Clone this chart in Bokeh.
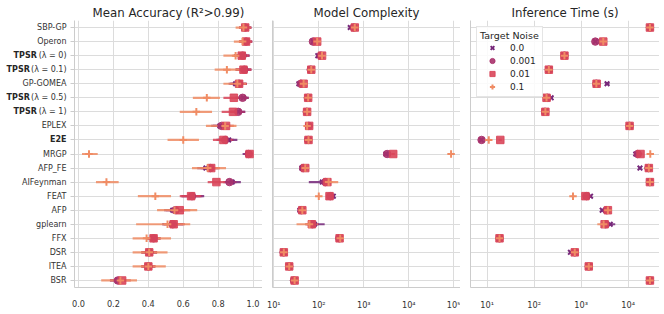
from bokeh.plotting import figure
from bokeh.models import Range1d, FactorRange, FixedTicker, Legend, LegendItem, ColumnDataSource, PrintfTickFormatter
from bokeh.layouts import row
from bokeh.embed import file_html
from bokeh.resources import INLINE
from bokeh.core.properties import value

methods = ["SBP-GP", "Operon", "TPSR (λ = 0)", "TPSR (λ = 0.1)", "GP-GOMEA", "TPSR (λ = 0.5)",
           "TPSR (λ = 1)", "EPLEX", "E2E", "MRGP", "AFP_FE", "AIFeynman", "FEAT", "AFP",
           "gplearn", "FFX", "DSR", "ITEA", "BSR"]
bold_methods = ["E2E"]
noise_levels = ["0.0", "0.001", "0.01", "0.1"]

# ---- Mean accuracy (R2 > 0.99) ----
acc_n0 = [0.955, 0.96, 0.94, 0.95, 0.90, 0.945, 0.915, 0.81, 0.86, 0.97, 0.73, 0.88, 0.65, 0.54, 0.54, 0.43, 0.405, 0.40, 0.225]
acc_n1 = [0.955, 0.96, 0.94, 0.95, 0.92, 0.94, 0.915, 0.82, 0.84, 0.975, 0.755, 0.865, 0.65, 0.555, 0.54, 0.43, 0.405, 0.40, 0.225]
acc_n2 = [0.955, 0.96, 0.935, 0.945, 0.92, 0.89, 0.885, 0.845, 0.83, 0.98, 0.76, 0.79, 0.645, 0.58, 0.545, 0.43, 0.405, 0.40, 0.25]
acc_n3 = [0.945, 0.94, 0.90, 0.85, 0.91, 0.735, 0.675, 0.84, 0.60, 0.06, 0.74, 0.16, 0.44, 0.55, 0.51, 0.39, 0.405, 0.40, 0.24]
acc_lo_n0 = [0.92, 0.92, 0.89, 0.90, 0.86, 0.90, 0.87, 0.76, 0.80, 0.94, 0.68, 0.84, 0.59, 0.49, 0.48, 0.39, 0.36, 0.36, 0.18]
acc_hi_n0 = [0.99, 0.995, 0.98, 0.99, 0.96, 0.975, 0.955, 0.86, 0.91, 0.99, 0.78, 0.93, 0.72, 0.60, 0.60, 0.47, 0.45, 0.44, 0.27]
acc_lo_n1 = [0.92, 0.92, 0.89, 0.90, 0.87, 0.90, 0.87, 0.77, 0.79, 0.95, 0.70, 0.83, 0.59, 0.50, 0.48, 0.39, 0.36, 0.36, 0.18]
acc_hi_n1 = [0.99, 0.995, 0.98, 0.99, 0.965, 0.975, 0.955, 0.87, 0.89, 0.99, 0.80, 0.905, 0.71, 0.61, 0.60, 0.47, 0.45, 0.44, 0.27]
acc_lo_n2 = [0.92, 0.92, 0.89, 0.90, 0.87, 0.83, 0.82, 0.80, 0.77, 0.96, 0.71, 0.74, 0.58, 0.52, 0.49, 0.39, 0.36, 0.36, 0.20]
acc_hi_n2 = [0.99, 0.995, 0.975, 0.99, 0.965, 0.94, 0.93, 0.89, 0.88, 0.995, 0.81, 0.84, 0.70, 0.64, 0.61, 0.47, 0.45, 0.44, 0.30]
acc_lo_n3 = [0.90, 0.89, 0.83, 0.78, 0.83, 0.655, 0.58, 0.73, 0.51, 0.02, 0.65, 0.10, 0.34, 0.45, 0.33, 0.31, 0.31, 0.31, 0.13]
acc_hi_n3 = [0.985, 0.985, 0.96, 0.93, 0.96, 0.81, 0.765, 0.905, 0.69, 0.11, 0.845, 0.23, 0.53, 0.68, 0.64, 0.53, 0.51, 0.50, 0.335]

# ---- Model complexity ----
cx_n0 = [500, 75, 95, 64, 36, 55, 53, 58, 56, 3100, 42, 120, 210, 38, 80, 280, 16.5, 22, 28]
cx_n1 = [600, 74, 110, 66, 40, 57, 54, 60, 58, 3300, 45, 140, 180, 41, 72, 285, 16.5, 22, 28]
cx_n2 = [630, 92, 118, 68, 46, 58, 55, 61, 59, 4500, 50, 155, 173, 43, 70, 290, 16.7, 22, 29]
cx_n3 = [630, 92, 118, 68, 46, 58, 55, 55, 59, 87000, 50, 165, 100, 43, 62, 300, 16.7, 22, 29]
cx_lo_n0 = [470, 70, 90, 60, 33, 52, 50, 54, 52, 2900, 39, 60, 190, 35, 50, 260, 15.5, 21, 26]
cx_hi_n0 = [540, 80, 100, 68, 39, 59, 57, 62, 60, 3400, 46, 160, 230, 41, 135, 300, 17.5, 23, 30]
cx_lo_n1 = [570, 70, 104, 62, 37, 54, 51, 57, 55, 3100, 42, 110, 165, 38, 58, 270, 15.5, 21, 26.5]
cx_hi_n1 = [640, 79, 117, 70, 43, 60, 57, 63, 61, 3600, 48, 175, 195, 44, 100, 300, 17.5, 23, 30]
cx_lo_n2 = [590, 86, 110, 64, 43, 55, 52, 58, 56, 4100, 47, 125, 160, 40, 55, 270, 15.8, 21, 27]
cx_hi_n2 = [670, 98, 126, 72, 49, 61, 58, 64, 62, 4900, 53, 190, 190, 46, 90, 310, 17.6, 23, 31]
cx_lo_n3 = [600, 88, 112, 65, 44, 56, 53, 52, 57, 84000, 48, 120, 96, 41, 32, 280, 16, 21, 27.5]
cx_hi_n3 = [660, 96, 124, 71, 48, 60, 57, 58, 61, 90000, 52, 270, 104, 45, 95, 340, 17.4, 23, 30.5]

# ---- Inference time (s) ----
tm_n0 = [29000, 2000, 440, 215, 3550, 230, 175, 10700, 7.5, 14500, 17800, 29000, 1580, 2800, 4150, 18.3, 590, 1450, 29000]
tm_n1 = [29000, 2000, 440, 205, 2100, 190, 170, 10700, 7.6, 16000, 27000, 29000, 1300, 3500, 3300, 18.3, 730, 1450, 29000]
tm_n2 = [29000, 2950, 440, 205, 2130, 183, 173, 10700, 19, 18300, 27500, 29000, 1230, 3700, 3150, 18.3, 730, 1450, 29000]
tm_n3 = [29000, 2950, 440, 205, 2100, 183, 173, 10700, 10.8, 29500, 27500, 29000, 670, 3700, 3000, 18.3, 730, 1450, 29000]
tm_lo_n0 = [27500, 1850, 410, 195, 3250, 210, 160, 10000, 7, 13500, 16500, 27500, 1480, 2600, 3300, 17, 550, 1380, 27500]
tm_hi_n0 = [30500, 2150, 470, 235, 4000, 250, 190, 11500, 8, 15500, 19000, 30500, 1700, 3000, 5300, 19.5, 640, 1520, 30500]
tm_lo_n1 = [27500, 1850, 410, 190, 1950, 175, 158, 10000, 7, 15000, 25500, 27500, 1200, 3250, 3000, 17, 680, 1380, 27500]
tm_hi_n1 = [30500, 2150, 470, 220, 2300, 205, 182, 11500, 8.2, 17000, 28500, 30500, 1400, 3750, 3600, 19.5, 790, 1520, 30500]
tm_lo_n2 = [27500, 2750, 410, 190, 1950, 170, 160, 10000, 17.5, 16500, 26000, 27500, 1120, 3450, 2900, 17, 680, 1380, 27500]
tm_hi_n2 = [30500, 3150, 470, 225, 2300, 200, 185, 11500, 20.5, 20000, 29000, 30500, 1350, 3950, 3450, 19.5, 790, 1520, 30500]
tm_lo_n3 = [27500, 2750, 410, 190, 1950, 170, 160, 10000, 10, 28000, 26000, 27500, 630, 3450, 2200, 17, 680, 1380, 27500]
tm_hi_n3 = [30500, 3150, 470, 225, 2300, 200, 185, 11500, 11.6, 31000, 29000, 30500, 710, 3950, 3800, 19.5, 790, 1520, 30500]

acc_ticks = [0.0, 0.2, 0.4, 0.6, 0.8, 1.0]
cx_ticks = [10, 100, 1000, 10000, 100000]
cx_tick_labels = ["10¹", "10²", "10³", "10⁴", "10⁵"]
tm_ticks = [10, 100, 1000, 10000]
tm_tick_labels = ["10¹", "10²", "10³", "10⁴"]

colors = ["#76287a", "#a8326c", "#d9465a", "#f08c64"]
markers = ["x", "circle", "square", "cross"]
sizes = [6.5, 7.5, 7.5, 7.5]

FONT = "DejaVu Sans"
H = 312
TOP = 20
BOT = 19
GRID = "#dcdcdc"
SPINE = "#cccccc"

yr = FactorRange(factors=list(reversed(methods)), range_padding=0)


def style(p, tick_out):
    p.title.text_font = FONT
    p.title.text_font_size = "11.8px"
    p.title.text_font_style = "normal"
    p.title.text_color = "#262626"
    p.title.align = "center"
    p.title.standoff = 1
    p.outline_line_color = None
    p.xaxis.axis_line_color = SPINE
    p.xaxis.major_tick_line_color = None
    p.xaxis.minor_tick_line_color = None
    p.xaxis.major_label_text_font = FONT
    p.xaxis.major_label_text_font_size = "8.2px"
    p.xaxis.major_label_text_color = "#333333"
    p.xaxis.major_label_standoff = 6
    p.yaxis.axis_line_color = SPINE
    p.yaxis.major_tick_line_color = SPINE if tick_out else None
    p.yaxis.major_tick_out = tick_out
    p.yaxis.major_tick_in = 0
    p.yaxis.major_label_standoff = 0
    p.yaxis.major_label_text_font_size = "0px"
    p.yaxis.major_label_text_alpha = 0
    p.xgrid.grid_line_color = GRID
    p.ygrid.grid_line_color = GRID
    p.background_fill_color = "white"


def draw(p, ests, los, his):
    for k in range(4):
        src = ColumnDataSource(dict(y=methods, lo=los[k], hi=his[k]))
        p.segment(x0="lo", y0="y", x1="hi", y1="y", source=src,
                  line_color=colors[k], line_width=2.2, line_alpha=0.85)
    rs = []
    for k in range(4):
        src = ColumnDataSource(dict(y=methods, x=ests[k]))
        if markers[k] in ("x", "cross"):
            r = p.scatter(x="x", y="y", source=src, marker=markers[k], size=sizes[k],
                          line_color=colors[k], line_width=2, fill_color=None)
        else:
            r = p.scatter(x="x", y="y", source=src, marker=markers[k], size=sizes[k],
                          fill_color=colors[k], fill_alpha=0.9, line_color=colors[k],
                          line_alpha=0.9, line_width=1)
        rs.append(r)
    return rs


# ---- label column ----
LW = 70
RX = 66
lab = figure(width=LW, height=H, x_range=Range1d(0, LW), y_range=yr,
             output_backend="svg", toolbar_location=None,
             x_axis_location=None, y_axis_location=None,
             min_border_left=0, min_border_right=0, min_border_top=TOP, min_border_bottom=BOT)
lab.outline_line_color = None
lab.grid.visible = False

plain = [m for m in methods if not m.startswith("TPSR") and m not in bold_methods]
lab.text(x=RX, y=plain, text=plain, text_align="right", text_baseline="middle",
         text_font=value(FONT), text_font_size="8px", text_color="#333333")
lab.text(x=RX, y=bold_methods, text=bold_methods, text_align="right", text_baseline="middle",
         text_font=value(FONT), text_font_size="8px", text_font_style="bold", text_color="#262626")
tpsr = [m for m in methods if m.startswith("TPSR")]
suffix = [m[5:] for m in tpsr]
suffix_w = [27.5, 34.5, 34.5, 27.5]
lab.text(x=RX, y=tpsr, text=suffix, text_align="right", text_baseline="middle",
         text_font=value(FONT), text_font_size="8px", text_color="#333333")
lab.text(x=[RX - w - 2.2 for w in suffix_w], y=tpsr, text=["TPSR"] * len(tpsr), text_align="right",
         text_baseline="middle", text_font=value(FONT), text_font_size="8px",
         text_font_style="bold", text_color="#262626")

# ---- panel 1 ----
p1 = figure(width=192, height=H, x_range=Range1d(-0.023, 1.054), y_range=yr,
            title="Mean Accuracy (R²>0.99)", output_backend="svg", toolbar_location=None,
            min_border_left=4, min_border_right=0, min_border_top=TOP, min_border_bottom=BOT)
style(p1, 4)
p1.xaxis.ticker = FixedTicker(ticks=acc_ticks)
p1.xaxis.formatter = PrintfTickFormatter(format="%.1f")
draw(p1, [acc_n0, acc_n1, acc_n2, acc_n3], [acc_lo_n0, acc_lo_n1, acc_lo_n2, acc_lo_n3],
     [acc_hi_n0, acc_hi_n1, acc_hi_n2, acc_hi_n3])

# ---- panel 2 ----
p2 = figure(width=198, height=H, x_axis_type="log", x_range=Range1d(10 ** 0.971, 10 ** 5.149),
            y_range=yr, title="Model Complexity", output_backend="svg", toolbar_location=None,
            min_border_left=10, min_border_right=0, min_border_top=TOP, min_border_bottom=BOT)
style(p2, 0)
t2 = FixedTicker(ticks=cx_ticks)
p2.xaxis.ticker = t2
p2.xgrid.ticker = t2
p2.xaxis.major_label_overrides = dict(zip(cx_ticks, cx_tick_labels))
draw(p2, [cx_n0, cx_n1, cx_n2, cx_n3], [cx_lo_n0, cx_lo_n1, cx_lo_n2, cx_lo_n3],
     [cx_hi_n0, cx_hi_n1, cx_hi_n2, cx_hi_n3])

# ---- panel 3 ----
p3 = figure(width=199, height=H, x_axis_type="log", x_range=Range1d(10 ** 0.645, 10 ** 4.666),
            y_range=yr, title="Inference Time (s)", output_backend="svg", toolbar_location=None,
            min_border_left=10, min_border_right=0, min_border_top=TOP, min_border_bottom=BOT)
style(p3, 0)
t3 = FixedTicker(ticks=tm_ticks)
p3.xaxis.ticker = t3
p3.xgrid.ticker = t3
p3.xaxis.major_label_overrides = dict(zip(tm_ticks, tm_tick_labels))
rs = draw(p3, [tm_n0, tm_n1, tm_n2, tm_n3], [tm_lo_n0, tm_lo_n1, tm_lo_n2, tm_lo_n3],
          [tm_hi_n0, tm_hi_n1, tm_hi_n2, tm_hi_n3])

legend = Legend(items=[LegendItem(label=noise_levels[k], renderers=[rs[k]]) for k in range(4)],
                location="top_left", title="Target Noise")
legend.title_text_font = FONT
legend.title_text_font_size = "9.5px"
legend.title_text_font_style = "normal"
legend.title_text_color = "#262626"
legend.title_standoff = 0
legend.label_text_font = FONT
legend.label_text_font_size = "9px"
legend.label_text_color = "#262626"
legend.glyph_width = 24
legend.glyph_height = 13
legend.label_height = 13
legend.spacing = 0
legend.padding = 3
legend.margin = 6
legend.label_standoff = 6
legend.border_line_color = SPINE
legend.background_fill_alpha = 0.85
p3.add_layout(legend)

layout = row(lab, p1, p2, p3)
open("out.html", "w").write(file_html(layout, INLINE))
